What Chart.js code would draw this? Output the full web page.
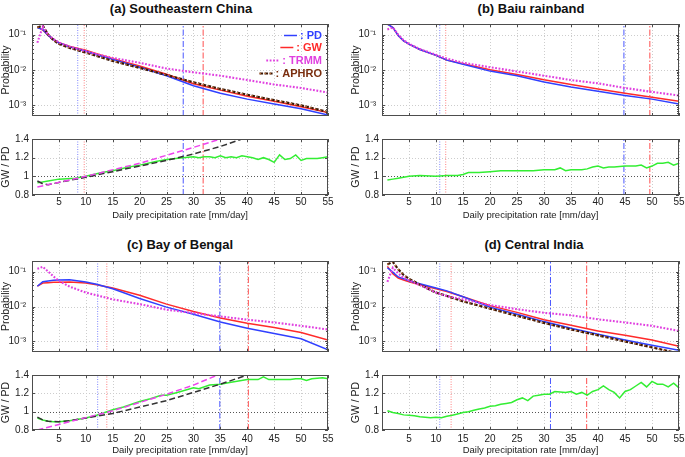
<!DOCTYPE html>
<html><head><meta charset="utf-8">
<script src="https://cdn.jsdelivr.net/npm/chart.js@4.4.1/dist/chart.umd.min.js"></script>
<style>
body{margin:0;background:#fff;width:685px;height:457px;overflow:hidden;position:relative;font-family:"Liberation Sans",Arial,sans-serif;}
canvas{position:absolute;}
.ttl{position:absolute;font-weight:bold;font-size:13px;transform:translate(-50%,-50%);white-space:nowrap;color:#111;}
</style></head><body>
<script>
// ---------- shared axes ----------
const xTicks = [5,10,15,20,25,30,35,40,45,50,55];
const xTickLabels = ['5','10','15','20','25','30','35','40','45','50','55'];
const xLimits = [0, 55];
const probTicks = [0.001, 0.01, 0.1];
const probTickLabels = ['10\u207B\u00B3','10\u207B\u00B2','10\u207B\u00B9'];
const probLimits = [0.0005, 0.2];
const ratioTicks = [0.8, 1, 1.2, 1.4];
const ratioTickLabels = ['0.8','1','1.2','1.4'];
const ratioLimits = [0.8, 1.4];
const panelTitles = ['(a) Southeastern China','(b) Baiu rainband','(c) Bay of Bengal','(d) Central India'];
const legendLabels = [': PD', ': GW', ': TRMM', ': APHRO'];
const xAxisTitle = 'Daily precipitation rate [mm/day]';

// ---------- probability bins ----------
const rateBins = [1,2,3,4,5,7,10,12,15,20,25,30,35,40,45,50,55];

// (a) Southeastern China
const a_PD    = [0.16,0.14,0.095,0.072,0.058,0.045,0.034,0.027,0.02,0.012,0.0069,0.0036,0.0022,0.0015,0.0011,0.0008,0.00053];
const a_GW    = [0.165,0.135,0.095,0.072,0.059,0.046,0.036,0.029,0.021,0.013,0.0076,0.0041,0.0027,0.0018,0.0013,0.00091,0.00063];
const a_TRMM  = [0.059,0.17,0.1,0.075,0.06,0.046,0.034,0.028,0.022,0.016,0.011,0.0086,0.0069,0.0052,0.0039,0.0031,0.0023];
const a_APHRO = [0.16,0.18,0.1,0.07,0.055,0.042,0.031,0.025,0.018,0.0115,0.0072,0.0045,0.0029,0.002,0.0014,0.001,0.00065];
const a_ratioX = [1,3,5,8,10,13,15,18,20,23,25,28,30,31,32,33,34,35,36,37,38,39,40,41,42,43,44,45,46,47,48,49,50,51,52,53,54,55];
const a_ratio  = [0.93,0.95,0.97,0.98,1.0,1.04,1.06,1.1,1.12,1.16,1.18,1.2,1.21,1.2,1.21,1.21,1.2,1.22,1.2,1.21,1.2,1.22,1.21,1.2,1.18,1.2,1.18,1.15,1.23,1.18,1.19,1.23,1.17,1.19,1.19,1.19,1.2,1.21];
const a_ccTrmmX = [1,10,20,30,35];
const a_ccTrmm  = [0.885,1.0,1.14,1.31,1.4];
const a_ccAphroX = [1,2,3,5,10,15,20,25,30,35,39];
const a_ccAphro  = [0.95,0.92,0.91,0.935,0.99,1.05,1.11,1.17,1.24,1.32,1.4];
const a_pctDot = [8.5, 9.7];      // PD, GW
const a_pctDashDot = [28.1, 31.8];

// (b) Baiu rainband
const b_PD   = [0.2,0.16,0.095,0.067,0.054,0.038,0.026,0.019,0.0146,0.0093,0.0069,0.0046,0.0033,0.0025,0.0019,0.0015,0.0011];
const b_GW   = [0.2,0.16,0.095,0.067,0.054,0.038,0.026,0.019,0.015,0.0102,0.0075,0.0053,0.0039,0.0029,0.0022,0.0017,0.0013];
const b_TRMM = [0.14,0.16,0.1,0.07,0.055,0.039,0.027,0.021,0.016,0.012,0.0091,0.0069,0.0052,0.0042,0.0031,0.0024,0.0019];
const b_ratioX = [1,2,3,4,5,7,10,12,13,14,15,16,18,20,22,25,28,30,32,33,34,35,37,38,39,40,41,42,43,45,47,48,49,50,51,52,53,54,55];
const b_ratio  = [0.96,0.97,0.98,0.99,1.0,1.01,1.0,1.01,1.01,1.01,1.02,1.04,1.04,1.05,1.06,1.06,1.06,1.07,1.07,1.09,1.06,1.07,1.07,1.08,1.1,1.11,1.09,1.1,1.1,1.11,1.11,1.12,1.09,1.11,1.14,1.14,1.15,1.12,1.14];
const b_pctDot = [10.7, 11.8];
const b_pctDashDot = [44.8, 49.6];

// (c) Bay of Bengal
const c_PD   = [0.038,0.051,0.054,0.056,0.057,0.058,0.05,0.043,0.032,0.017,0.0096,0.006,0.0036,0.0024,0.0017,0.0012,0.00058];
const c_GW   = [0.038,0.047,0.048,0.049,0.049,0.05,0.047,0.042,0.034,0.021,0.0117,0.0072,0.0047,0.0033,0.0025,0.0018,0.0011];
const c_TRMM = [0.12,0.136,0.1,0.072,0.054,0.037,0.025,0.021,0.016,0.0117,0.0081,0.0065,0.0052,0.0042,0.0035,0.0028,0.0022];
const c_ratioX = [1,2,3,4,5,7,10,12,13,15,17,20,22,24,25,27,30,31,33,35,37,40,42,43,44,45,48,49,50,51,52,54,55];
const c_ratio  = [0.93,0.91,0.895,0.89,0.89,0.9,0.93,0.96,0.98,1.02,1.05,1.11,1.14,1.18,1.18,1.21,1.26,1.25,1.29,1.3,1.32,1.35,1.35,1.38,1.35,1.35,1.35,1.36,1.36,1.34,1.36,1.37,1.36];
const c_ccTrmmX = [1,5,10,15,20,25,30,34.5];
const c_ccTrmm  = [0.8,0.86,0.935,1.01,1.1,1.19,1.29,1.4];
const c_ccModelX = [1,2,3,5,7,10,13,15,20,25,30,35,40];
const c_ccModel  = [0.94,0.91,0.895,0.89,0.9,0.93,0.96,0.98,1.05,1.12,1.21,1.3,1.4];
const c_pctDot = [12.2, 13.9];
const c_pctDashDot = [34.9, 40.2];

// (d) Central India
const d_PD    = [0.128,0.096,0.07,0.062,0.054,0.045,0.034,0.028,0.019,0.0096,0.006,0.0037,0.0024,0.0016,0.0011,0.00078,0.00056];
const d_GW    = [0.14,0.087,0.065,0.057,0.051,0.042,0.032,0.027,0.019,0.0106,0.0068,0.0042,0.0029,0.002,0.0015,0.0011,0.00073];
const d_TRMM  = [0.051,0.128,0.088,0.066,0.056,0.041,0.025,0.02,0.016,0.011,0.0084,0.0066,0.0056,0.0043,0.0035,0.0028,0.002];
const d_APHRO = [0.16,0.19,0.116,0.08,0.062,0.042,0.025,0.02,0.014,0.0087,0.0054,0.0034,0.0022,0.0015,0.001,0.00068,0.00045];
const d_ratioX = [1,2,3,4,5,6,7,8,9,10,11,12,13,14,15,16,17,18,19,20,21,22,23,24,25,26,27,28,29,30,31,32,33,34,35,36,37,38,39,40,41,42,43,44,45,46,47,48,49,50,51,52,53,54,55];
const d_ratio  = [1.01,0.99,0.98,0.965,0.96,0.955,0.945,0.94,0.935,0.94,0.935,0.95,0.96,0.975,0.99,1.0,1.015,1.03,1.04,1.06,1.065,1.08,1.09,1.1,1.13,1.15,1.12,1.17,1.18,1.19,1.19,1.22,1.215,1.21,1.22,1.19,1.21,1.18,1.22,1.24,1.28,1.24,1.21,1.15,1.22,1.24,1.28,1.32,1.27,1.33,1.3,1.3,1.27,1.31,1.26];
const d_pctDot = [10.7, 12.8];
const d_pctDashDot = [31.2, 37.9];

// ---------- styling ----------
const FONT = '"Liberation Sans", Arial, Helvetica, sans-serif';
const TXT = '#222';
const C = {PD:'#3040ff', GW:'#ff2a2a', TRMM:'#e040e0', APHRO:'#7a2e0e', APHRO_dash:'#3a1606', APHRO_dot:'#c8763a',
           ratio:'#33ee33', ccTrmm:'#ee44ee', ccModel:'#333333',
           dotPD:'#7f86ff', dotGW:'#ff8080', ddPD:'#4a56ff', ddGW:'#ff5050'};
const STY = {
  PD:{borderColor:C.PD, borderWidth:1.5},
  GW:{borderColor:C.GW, borderWidth:1.5},
  TRMM:{borderColor:C.TRMM, borderWidth:2.1, borderDash:[1.8,1.6]},
  APHRO_dash:{borderColor:C.APHRO_dash, borderWidth:2.2, borderDash:[3.5,1.5]},
  APHRO_dot:{borderColor:C.APHRO_dot, borderWidth:1.4, borderDash:[1.3,3.7]},
  ratio:{borderColor:C.ratio, borderWidth:1.5},
  ccTrmm:{borderColor:C.ccTrmm, borderWidth:1.5, borderDash:[6,3]},
  ccModel:{borderColor:C.ccModel, borderWidth:1.5, borderDash:[6,3]},
  dotPD:{borderColor:C.dotPD, borderWidth:1, borderDash:[1,1.5]},
  dotGW:{borderColor:C.dotGW, borderWidth:1, borderDash:[1,1.5]},
  ddPD:{borderColor:C.ddPD, borderWidth:1, borderDash:[6,2,1.5,2]},
  ddGW:{borderColor:C.ddGW, borderWidth:1, borderDash:[6,2,1.5,2]}
};

function pts(xs, ys){ return xs.map((x,i)=>({x:x, y:ys[i]})); }
function vpts(v, lim){ return [{x:v,y:lim[0]},{x:v,y:lim[1]}]; }
function ds(data, style){ return Object.assign({data:data, pointRadius:0, fill:false, tension:0, clip:0}, style); }
function vlines(dot, dd, lim){
  return [ds(vpts(dot[0],lim),STY.dotPD), ds(vpts(dot[1],lim),STY.dotGW),
          ds(vpts(dd[0],lim),STY.ddPD), ds(vpts(dd[1],lim),STY.ddGW)];
}

// grid, frame and inward tick marks
function gridFrame(kind){
  return {
    id:'gf',
    beforeDatasetsDraw(chart){
      const {ctx, chartArea:a, scales:{x,y}} = chart;
      ctx.save();
      ctx.lineWidth = 1; ctx.setLineDash([1,2]); ctx.strokeStyle = '#cdcdcd';
      ctx.beginPath();
      xTicks.forEach(v=>{ const p=Math.round(x.getPixelForValue(v))+0.5; ctx.moveTo(p,a.top); ctx.lineTo(p,a.bottom); });
      const yg = kind==='top' ? probTicks : [1.2];
      yg.forEach(v=>{ const p=Math.round(y.getPixelForValue(v))+0.5; ctx.moveTo(a.left,p); ctx.lineTo(a.right,p); });
      ctx.stroke();
      if (kind!=='top'){
        ctx.strokeStyle = '#555'; ctx.beginPath();
        const p=Math.round(y.getPixelForValue(1))+0.5; ctx.moveTo(a.left,p); ctx.lineTo(a.right,p); ctx.stroke();
      }
      ctx.restore();
    },
    afterDraw(chart){
      const {ctx, chartArea:a, scales:{x,y}} = chart;
      ctx.save();
      ctx.setLineDash([]); ctx.strokeStyle = '#4d4d4d'; ctx.lineWidth = 1;
      ctx.strokeRect(Math.round(a.left)+0.5, Math.round(a.top)+0.5, Math.round(a.right-a.left)-1, Math.round(a.bottom-a.top)-1);
      ctx.beginPath();
      xTicks.forEach(v=>{ const p=Math.round(x.getPixelForValue(v))+0.5; ctx.moveTo(p,a.bottom); ctx.lineTo(p,a.bottom-3); ctx.moveTo(p,a.top); ctx.lineTo(p,a.top+3); });
      if (kind==='top'){
        for (let e=-4; e<=0; e++) for (let m=1; m<=9; m++){
          const v = m*Math.pow(10,e);
          if (v<=probLimits[0]||v>=probLimits[1]) continue;
          const p=Math.round(y.getPixelForValue(v))+0.5, L = m===1?3:2;
          ctx.moveTo(a.left,p); ctx.lineTo(a.left+L,p); ctx.moveTo(a.right,p); ctx.lineTo(a.right-L,p);
        }
      } else {
        ratioTicks.forEach(v=>{ const p=Math.round(y.getPixelForValue(v))+0.5; ctx.moveTo(a.left,p); ctx.lineTo(a.left+3,p); ctx.moveTo(a.right,p); ctx.lineTo(a.right-3,p); });
      }
      ctx.stroke();
      ctx.restore();
    }
  };
}

const legendStyles = ['PD','GW','TRMM','APHRO'];
const legendColors = [C.PD, C.GW, C.TRMM, C.APHRO];
const legendPlugin = {
  id:'lg',
  afterDatasetsDraw(chart){
    const {ctx, chartArea:a} = chart;
    ctx.save();
    ctx.font = 'bold 11px ' + FONT;
    ctx.textAlign = 'right'; ctx.textBaseline = 'middle';
    legendLabels.forEach((lab,i)=>{
      const y = Math.round(a.top + 10.5 + i*12.9) + 0.5;
      const xr = a.right - 6;
      const tw = ctx.measureText(lab).width;
      ctx.fillStyle = legendColors[i];
      ctx.fillText(lab, xr, y);
      const x1 = xr - tw - 3, x0 = x1 - 13;
      const draw = (st)=>{ ctx.beginPath(); ctx.strokeStyle=st.borderColor; ctx.lineWidth=st.borderWidth; ctx.setLineDash(st.borderDash||[]); ctx.moveTo(x0,y); ctx.lineTo(x1,y); ctx.stroke(); };
      if (legendStyles[i]==='APHRO'){ draw(STY.APHRO_dash); draw(STY.APHRO_dot); }
      else draw(STY[legendStyles[i]]);
    });
    ctx.restore();
  }
};

function makeChart(box, kind, datasets, extra, tickPad){
  const L = 32, T = 8, R = 10;
  const B = kind==='top' ? 0 : 26;
  const PB = kind==='top' ? 2 : 0;
  const w = box.r - box.l + L + R, h = box.b - box.t + T + B + PB;
  const cv = document.createElement('canvas');
  cv.width = w; cv.height = h;
  cv.style.left = (box.l - L) + 'px'; cv.style.top = (box.t - T) + 'px';
  cv.style.width = w + 'px'; cv.style.height = h + 'px';
  document.body.appendChild(cv);
  const isTop = kind==='top';
  const yScale = isTop ? {
      type:'logarithmic', min:probLimits[0], max:probLimits[1],
      afterBuildTicks: s=>{ s.ticks = probTicks.map(v=>({value:v})); },
      afterFit: s=>{ s.width = L; },
      grid:{display:false, drawTicks:false}, border:{display:false},
      ticks:{ callback:(v,i)=>probTickLabels[i], font:{size:10, family:FONT}, color:TXT, padding:6, autoSkip:false },
      title:{display:true, text:'Probability', font:{size:10.5, family:FONT}, color:TXT, padding:0}
    } : {
      type:'linear', min:ratioLimits[0], max:ratioLimits[1],
      afterBuildTicks: s=>{ s.ticks = ratioTicks.map(v=>({value:v})); },
      afterFit: s=>{ s.width = L; },
      grid:{display:false, drawTicks:false}, border:{display:false},
      ticks:{ callback:(v,i)=>ratioTickLabels[i], font:{size:10, family:FONT}, color:TXT, padding:3, autoSkip:false },
      title:{display:true, text:'GW / PD', font:{size:10.5, family:FONT}, color:TXT, padding:0}
    };
  const xScale = {
    type:'linear', min:xLimits[0], max:xLimits[1],
    afterBuildTicks: s=>{ s.ticks = xTicks.map(v=>({value:v})); },
    afterFit: s=>{ s.height = B; },
    grid:{display:false, drawTicks:false}, border:{display:false},
    ticks:{ display:!isTop, callback:(v,i)=>xTickLabels[i], font:{size:10, family:FONT}, color:TXT, padding:tickPad||1, maxRotation:0, autoSkip:false },
    title:{display:!isTop, text:xAxisTitle, font:{size:9.5, family:FONT}, color:TXT, padding:0}
  };
  new Chart(cv, {
    type:'line',
    data:{datasets:datasets},
    options:{
      responsive:false, animation:false, devicePixelRatio:1, events:[],
      layout:{padding:{left:0, top:T, right:R, bottom:PB}},
      plugins:{legend:{display:false}, tooltip:{enabled:false}, title:{display:false}},
      scales:{x:xScale, y:yScale}
    },
    plugins:[gridFrame(kind)].concat(extra||[])
  });
}

function aphro(arr){ return [ds(pts(rateBins,arr),STY.APHRO_dot), ds(pts(rateBins,arr),STY.APHRO_dash)]; }

// ---------- boxes (plot areas) ----------
const boxes = {
  aTop:{l:32,r:328,t:20,b:126},  aBot:{l:32,r:328,t:138,b:195},
  bTop:{l:382,r:679,t:20,b:126}, bBot:{l:382,r:679,t:138,b:195},
  cTop:{l:32,r:328,t:257,b:362}, cBot:{l:32,r:328,t:374,b:430},
  dTop:{l:382,r:679,t:257,b:362},dBot:{l:382,r:679,t:374,b:430}
};

// titles
[[181,8],[531,8],[180,244],[534,244]].forEach((p,i)=>{
  const d=document.createElement('div'); d.className='ttl'; d.textContent=panelTitles[i];
  d.style.left=p[0]+'px'; d.style.top=p[1]+'px'; document.body.appendChild(d);
});

// (a)
makeChart(boxes.aTop,'top',[
  ds(pts(rateBins,a_TRMM),STY.TRMM), ...aphro(a_APHRO),
  ds(pts(rateBins,a_PD),STY.PD), ds(pts(rateBins,a_GW),STY.GW),
  ...vlines(a_pctDot,a_pctDashDot,probLimits)
],[legendPlugin]);
makeChart(boxes.aBot,'bot',[
  ds(pts(a_ccTrmmX,a_ccTrmm),STY.ccTrmm), ds(pts(a_ccAphroX,a_ccAphro),STY.ccModel),
  ds(pts(a_ratioX,a_ratio),STY.ratio),
  ...vlines(a_pctDot,a_pctDashDot,ratioLimits)
],[],1);
// (b)
makeChart(boxes.bTop,'top',[
  ds(pts(rateBins,b_TRMM),STY.TRMM),
  ds(pts(rateBins,b_PD),STY.PD), ds(pts(rateBins,b_GW),STY.GW),
  ...vlines(b_pctDot,b_pctDashDot,probLimits)
]);
makeChart(boxes.bBot,'bot',[
  ds(pts(b_ratioX,b_ratio),STY.ratio),
  ...vlines(b_pctDot,b_pctDashDot,ratioLimits)
],[],1);
// (c)
makeChart(boxes.cTop,'top',[
  ds(pts(rateBins,c_TRMM),STY.TRMM),
  ds(pts(rateBins,c_PD),STY.PD), ds(pts(rateBins,c_GW),STY.GW),
  ...vlines(c_pctDot,c_pctDashDot,probLimits)
]);
makeChart(boxes.cBot,'bot',[
  ds(pts(c_ccTrmmX,c_ccTrmm),STY.ccTrmm), ds(pts(c_ccModelX,c_ccModel),STY.ccModel),
  ds(pts(c_ratioX,c_ratio),STY.ratio),
  ...vlines(c_pctDot,c_pctDashDot,ratioLimits)
],[],3);
// (d)
makeChart(boxes.dTop,'top',[
  ds(pts(rateBins,d_TRMM),STY.TRMM), ...aphro(d_APHRO),
  ds(pts(rateBins,d_PD),STY.PD), ds(pts(rateBins,d_GW),STY.GW),
  ...vlines(d_pctDot,d_pctDashDot,probLimits)
]);
makeChart(boxes.dBot,'bot',[
  ds(pts(d_ratioX,d_ratio),STY.ratio),
  ...vlines(d_pctDot,d_pctDashDot,ratioLimits)
],[],3);
</script>
</body></html>
